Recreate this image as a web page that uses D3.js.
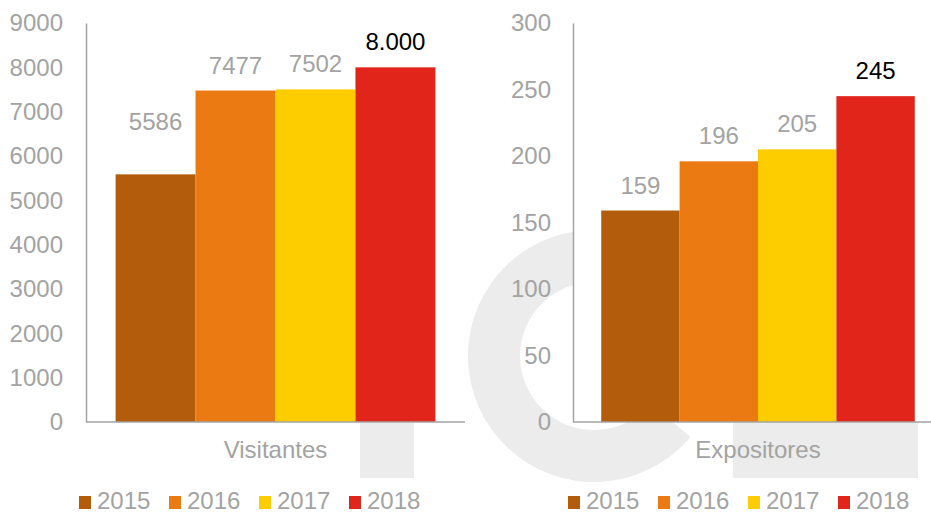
<!DOCTYPE html>
<html>
<head>
<meta charset="utf-8">
<script src="https://cdn.jsdelivr.net/npm/d3@7"></script>
<style>
  body { margin: 0; background: #fff; }
  text { font-family: "Liberation Sans", Arial, sans-serif; }
</style>
</head>
<body>
<svg width="931" height="512"></svg>
<script>
// data
var years = ["2015", "2016", "2017", "2018"];
var colors = ["#b35c0b", "#ec7a12", "#fdcd00", "#e1251b"];
var visitantes = [5586, 7477, 7502, 8000];
var visitantesLabels = ["5586", "7477", "7502", "8.000"];
var expositores = [159, 196, 205, 245];
var expositoresLabels = ["159", "196", "205", "245"];
var visitantesTicks = [0, 1000, 2000, 3000, 4000, 5000, 6000, 7000, 8000, 9000];
var expositoresTicks = [0, 50, 100, 150, 200, 250, 300];

var grey = "#a3a3a3";
var svg = d3.select("svg");

// light watermark behind the charts
var mark = svg.append("g").attr("fill", "#ececec");
mark.append("path")
    .attr("transform", "translate(" + [594, 356] + ")")
    .attr("d", d3.arc()({ innerRadius: 74, outerRadius: 126, startAngle: 130 * Math.PI / 180, endAngle: 410 * Math.PI / 180 }));
mark.append("rect").attr("x", 360).attr("y", 300).attr("width", 54).attr("height", 178);
mark.append("rect").attr("x", 733).attr("y", 300).attr("width", 185).attr("height", 178);

drawPanel({ left: 86, right: 465, top: 23, bottom: 422, pad: 23, legendX: 79, outer: 0.37,
            name: "Visitantes", values: visitantes, labels: visitantesLabels,
            ticks: visitantesTicks, lift: [27, 0, 0, 0] });
drawPanel({ left: 573, right: 943, top: 23, bottom: 422, pad: 22, legendX: 568, outer: 0.36,
            name: "Expositores", values: expositores, labels: expositoresLabels,
            ticks: expositoresTicks, lift: [0, 0, 0, 0] });

function drawPanel(p) {
  var g = svg.append("g");

  var y = d3.scaleLinear()
      .domain([0, d3.max(p.ticks)])
      .range([p.bottom, p.top]);
  var x = d3.scaleBand()
      .domain(years)
      .range([p.left, p.right])
      .paddingInner(0)
      .paddingOuter(p.outer);

  // white plot area hides the watermark
  g.append("rect")
      .attr("x", p.left).attr("y", 0)
      .attr("width", p.right - p.left).attr("height", p.bottom)
      .attr("fill", "#fff");

  g.selectAll(".bar")
      .data(p.values)
      .enter().append("rect")
      .attr("class", "bar")
      .attr("x", function(d, i) { return x(years[i]); })
      .attr("width", x.bandwidth())
      .attr("y", function(d) { return y(d); })
      .attr("height", function(d) { return y(0) - y(d); })
      .attr("fill", function(d, i) { return colors[i]; });

  g.selectAll(".val")
      .data(p.values)
      .enter().append("text")
      .attr("class", "val")
      .attr("x", function(d, i) { return x(years[i]) + x.bandwidth() / 2; })
      .attr("y", function(d, i) { return y(d) - 17 - p.lift[i]; })
      .attr("text-anchor", "middle")
      .attr("font-size", 24)
      .attr("fill", function(d, i) { return i == 3 ? "#000" : grey; })
      .text(function(d, i) { return p.labels[i]; });

  var ax = g.append("g")
      .attr("transform", "translate(" + [p.left, 0] + ")")
      .call(d3.axisLeft(y).tickValues(p.ticks).tickFormat(d3.format("d")).tickSize(0).tickPadding(p.pad));
  ax.select(".domain").attr("stroke", grey).attr("stroke-width", 1.5);
  ax.selectAll("text").attr("font-size", 24).attr("fill", grey)
      .style("font-family", "Liberation Sans, Arial, sans-serif");

  g.append("line")
      .attr("x1", p.left).attr("x2", p.right)
      .attr("y1", p.bottom).attr("y2", p.bottom)
      .attr("stroke", grey).attr("stroke-width", 1.5);

  g.append("text")
      .attr("x", (p.left + p.right) / 2)
      .attr("y", p.bottom + 36)
      .attr("text-anchor", "middle")
      .attr("font-size", 24)
      .attr("fill", grey)
      .text(p.name);

  var legend = g.append("g").attr("transform", "translate(" + [p.legendX, 496] + ")");
  years.forEach(function(yr, i) {
    var item = legend.append("g").attr("transform", "translate(" + [i * 90, 0] + ")");
    item.append("rect").attr("width", 12).attr("height", 13).attr("fill", colors[i]);
    item.append("text")
        .attr("x", 18).attr("y", 13)
        .attr("font-size", 24)
        .attr("fill", grey)
        .text(yr);
  });
}
</script>
</body>
</html>
